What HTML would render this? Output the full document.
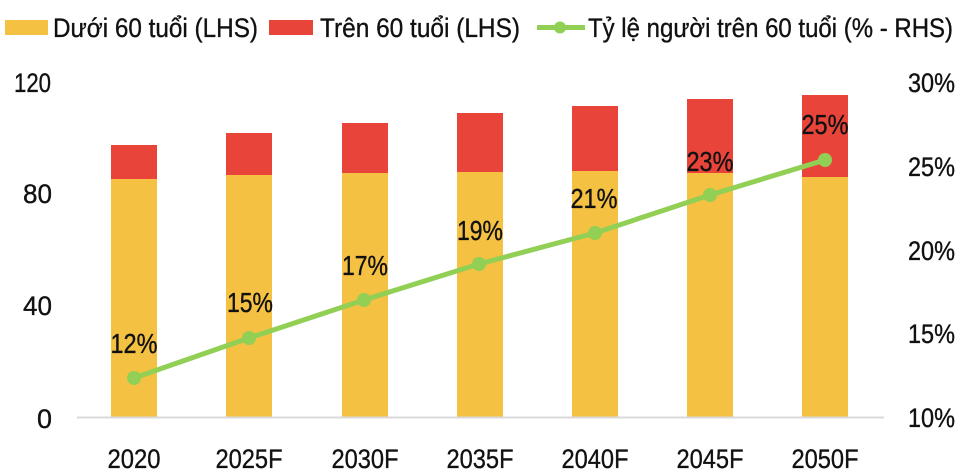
<!DOCTYPE html>
<html>
<head>
<meta charset="utf-8">
<style>
html,body{margin:0;padding:0;background:#fff;}
svg{display:block;}
text{font-family:"Liberation Sans","DejaVu Sans",sans-serif;fill:#111;stroke:#111;stroke-width:0.35;}
</style>
</head>
<body>
<svg width="975" height="475" viewBox="0 0 975 475" xmlns="http://www.w3.org/2000/svg">
  <!-- Legend -->
  <rect x="5" y="20" width="43" height="15" fill="#F4C142"/>
  <text x="53" y="37" font-size="27" textLength="205" lengthAdjust="spacingAndGlyphs">Dưới 60 tuổi (LHS)</text>
  <rect x="269" y="20" width="44" height="15" fill="#E9443A"/>
  <text x="320" y="37" font-size="27" textLength="200" lengthAdjust="spacingAndGlyphs">Trên 60 tuổi (LHS)</text>
  <line x1="537" y1="27.5" x2="585" y2="27.5" stroke="#92CF55" stroke-width="5"/>
  <circle cx="560" cy="27.5" r="6" fill="#92CF55"/>
  <text x="588" y="37" font-size="27" textLength="365" lengthAdjust="spacingAndGlyphs">Tỷ lệ người trên 60 tuổi (% - RHS)</text>

  <!-- Left axis labels -->
  <text x="51" y="92" font-size="27" text-anchor="end" textLength="37" lengthAdjust="spacingAndGlyphs">120</text>
  <text x="52" y="203" font-size="27" text-anchor="end" textLength="29" lengthAdjust="spacingAndGlyphs">80</text>
  <text x="52" y="315" font-size="27" text-anchor="end" textLength="29" lengthAdjust="spacingAndGlyphs">40</text>
  <text x="52" y="428" font-size="27" text-anchor="end" textLength="15" lengthAdjust="spacingAndGlyphs">0</text>

  <!-- Right axis labels -->
  <text x="908" y="92" font-size="27" textLength="47" lengthAdjust="spacingAndGlyphs">30%</text>
  <text x="908" y="176" font-size="27" textLength="47" lengthAdjust="spacingAndGlyphs">25%</text>
  <text x="908" y="260" font-size="27" textLength="47" lengthAdjust="spacingAndGlyphs">20%</text>
  <text x="908" y="343" font-size="27" textLength="47" lengthAdjust="spacingAndGlyphs">15%</text>
  <text x="908" y="427" font-size="27" textLength="47" lengthAdjust="spacingAndGlyphs">10%</text>

  <!-- Bars -->
  <g>
    <rect x="111" y="179" width="46" height="238" fill="#F4C142"/>
    <rect x="111" y="145" width="46" height="34" fill="#E9443A"/>

    <rect x="226" y="175" width="46" height="242" fill="#F4C142"/>
    <rect x="226" y="133" width="46" height="42" fill="#E9443A"/>

    <rect x="342" y="173" width="46" height="244" fill="#F4C142"/>
    <rect x="342" y="123" width="46" height="50" fill="#E9443A"/>

    <rect x="457" y="172" width="46" height="245" fill="#F4C142"/>
    <rect x="457" y="113" width="46" height="59" fill="#E9443A"/>

    <rect x="572" y="171" width="46" height="246" fill="#F4C142"/>
    <rect x="572" y="106" width="46" height="65" fill="#E9443A"/>

    <rect x="687" y="173" width="46" height="244" fill="#F4C142"/>
    <rect x="687" y="99" width="46" height="74" fill="#E9443A"/>

    <rect x="802" y="177" width="46" height="240" fill="#F4C142"/>
    <rect x="802" y="95" width="46" height="82" fill="#E9443A"/>
  </g>

  <!-- Axis line -->
  <line x1="77" y1="417.5" x2="884" y2="417.5" stroke="#D9D9D9" stroke-width="2"/>

  <!-- X labels -->
  <text x="134" y="468" font-size="27" text-anchor="middle" textLength="53" lengthAdjust="spacingAndGlyphs">2020</text>
  <text x="249" y="468" font-size="27" text-anchor="middle" textLength="67" lengthAdjust="spacingAndGlyphs">2025F</text>
  <text x="365" y="468" font-size="27" text-anchor="middle" textLength="67" lengthAdjust="spacingAndGlyphs">2030F</text>
  <text x="480" y="468" font-size="27" text-anchor="middle" textLength="67" lengthAdjust="spacingAndGlyphs">2035F</text>
  <text x="595" y="468" font-size="27" text-anchor="middle" textLength="67" lengthAdjust="spacingAndGlyphs">2040F</text>
  <text x="710" y="468" font-size="27" text-anchor="middle" textLength="67" lengthAdjust="spacingAndGlyphs">2045F</text>
  <text x="825" y="468" font-size="27" text-anchor="middle" textLength="67" lengthAdjust="spacingAndGlyphs">2050F</text>

  <!-- Line series -->
  <polyline points="134,378 249,338 364,300 479,264 595,233 710,195 825,160" fill="none" stroke="#92CF55" stroke-width="5" stroke-linejoin="round"/>
  <g fill="#92CF55">
    <circle cx="134" cy="378" r="7"/>
    <circle cx="249" cy="338" r="7"/>
    <circle cx="364" cy="300" r="7"/>
    <circle cx="479" cy="264" r="7"/>
    <circle cx="595" cy="233" r="7"/>
    <circle cx="710" cy="195" r="7"/>
    <circle cx="825" cy="160" r="7"/>
  </g>

  <!-- Data labels -->
  <text x="134" y="353" font-size="28" text-anchor="middle" textLength="47" lengthAdjust="spacingAndGlyphs">12%</text>
  <text x="250" y="312" font-size="28" text-anchor="middle" textLength="46" lengthAdjust="spacingAndGlyphs">15%</text>
  <text x="365" y="275" font-size="28" text-anchor="middle" textLength="46" lengthAdjust="spacingAndGlyphs">17%</text>
  <text x="480" y="240" font-size="28" text-anchor="middle" textLength="46" lengthAdjust="spacingAndGlyphs">19%</text>
  <text x="594" y="208" font-size="28" text-anchor="middle" textLength="47" lengthAdjust="spacingAndGlyphs">21%</text>
  <text x="710" y="171" font-size="28" text-anchor="middle" textLength="47" lengthAdjust="spacingAndGlyphs">23%</text>
  <text x="825" y="134" font-size="28" text-anchor="middle" textLength="47" lengthAdjust="spacingAndGlyphs">25%</text>
</svg>
</body>
</html>
